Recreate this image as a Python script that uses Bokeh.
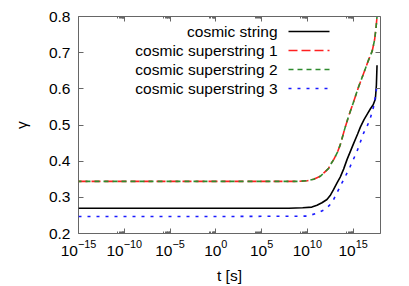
from bokeh.plotting import figure
from bokeh.models import (FixedTicker, LogAxis, LinearAxis, CustomJSTickFormatter, LogTickFormatter,
                          NumeralTickFormatter, Label, Arrow, Range1d)
from bokeh.embed import file_html
from bokeh.resources import INLINE

# ---- data (log10 of t in seconds, gamma) ----
string_logt = [-15, 0, 8, 9.5, 10.5, 11.06, 11.6, 12.15, 12.5, 12.88, 13.25, 13.6,
               13.97, 14.35, 15.0, 15.5, 15.8, 16.2, 16.6, 16.9, 17.2, 17.44, 17.55, 17.62]
string_gamma = [0.270, 0.270, 0.270, 0.271, 0.273, 0.278, 0.285, 0.294, 0.305, 0.322,
                0.340, 0.356, 0.378, 0.405, 0.445, 0.475, 0.494, 0.515, 0.532, 0.545,
                0.556, 0.572, 0.610, 0.665]

super12_logt = [-15, 0, 9, 10, 10.7, 11.42, 11.79, 12.33, 12.52, 12.9, 13.3, 13.6, 14.1,
                14.5, 15.06, 15.6, 16.16, 16.7, 17.1, 17.35, 17.5, 17.62]
super12_gamma = [0.344, 0.344, 0.344, 0.346, 0.350, 0.358, 0.367, 0.380, 0.390, 0.405,
                 0.425, 0.445, 0.490, 0.523, 0.564, 0.605, 0.643, 0.680, 0.705, 0.735,
                 0.765, 0.800]

super3_logt = [-15, 0, 9.97, 11.06, 11.97, 12.7, 13.25, 13.79, 14.2, 14.7, 15.43, 16.16,
               16.53, 16.89, 17.25, 17.44, 17.62]
super3_gamma = [0.247, 0.247, 0.248, 0.256, 0.267, 0.285, 0.313, 0.340, 0.360, 0.386,
                0.427, 0.478, 0.496, 0.519, 0.551, 0.578, 0.610]

x_major_exp = [-15, -10, -5, 0, 5, 10, 15]
y_ticks = [0.2, 0.3, 0.4, 0.5, 0.6, 0.7, 0.8]

legend_labels = ["cosmic string", "cosmic superstring 1", "cosmic superstring 2", "cosmic superstring 3"]

FONT = "Liberation Sans"
FS = "15.5px"
AX = "#666666"

def to_t(logs):
    return [10.0 ** v for v in logs]

p = figure(width=401, height=286, output_backend="svg", toolbar_location=None,
           x_axis_type="log", x_range=Range1d(1e-15, 1e18), y_range=Range1d(0.2, 0.8),
           min_border_left=78, min_border_right=21, min_border_top=16, min_border_bottom=52)
p.xgrid.visible = False
p.ygrid.visible = False
p.outline_line_color = AX
p.outline_line_width = 1
p.background_fill_color = "white"
p.border_fill_color = "white"

majors = [10.0 ** e for e in x_major_exp]
minors = [k * 10.0 ** (e - 1) for e in x_major_exp for k in range(2, 10)]
xt = FixedTicker(ticks=majors, minor_ticks=minors)
yt = FixedTicker(ticks=y_ticks)

xa = p.xaxis[0]
xa.ticker = xt
xa.formatter = LogTickFormatter()
xa.axis_label = "t [s]"
ya = p.yaxis[0]
ya.ticker = yt
ya.formatter = NumeralTickFormatter(format="0.0")
ya.axis_label = "\u03b3"

for ax in (xa, ya):
    ax.axis_line_color = None
    ax.major_tick_in = 5
    ax.major_tick_out = 0
    ax.minor_tick_in = 2
    ax.minor_tick_out = 0
    ax.major_tick_line_color = AX
    ax.minor_tick_line_color = AX
    ax.major_label_text_font = FONT
    ax.major_label_text_font_size = FS
    ax.major_label_text_color = "black"
    ax.axis_label_text_font = FONT
    ax.axis_label_text_font_size = FS
    ax.axis_label_text_font_style = "normal"
    ax.axis_label_text_color = "black"
ya.minor_tick_line_color = None
xa.major_label_standoff = 6
xa.axis_label_standoff = 8
ya.major_label_standoff = 8
ya.axis_label_standoff = 16

blank = CustomJSTickFormatter(code="return '';")
top = LogAxis(ticker=xt, formatter=blank)
right = LinearAxis(ticker=yt, formatter=blank)
for ax in (top, right):
    ax.axis_line_color = None
    ax.major_tick_in = 5
    ax.major_tick_out = 0
    ax.minor_tick_in = 2
    ax.minor_tick_out = 0
    ax.major_tick_line_color = AX
    ax.minor_tick_line_color = AX
    ax.major_label_standoff = 0
    ax.major_label_text_font_size = "1px"
right.minor_tick_line_color = None
p.add_layout(top, "above")
p.add_layout(right, "right")

LW = 1.6
p.line(to_t(string_logt), string_gamma, line_color="black", line_width=LW)
p.line(to_t(super12_logt), super12_gamma, line_color="#ff2020", line_width=LW, line_dash="9 4")
p.line(to_t(super12_logt), super12_gamma, line_color="#2e8b2e", line_width=LW, line_dash="5 4",
       line_dash_offset=2)
p.line(to_t(super3_logt), super3_gamma, line_color="#1a1aff", line_width=LW, line_dash="3 6")

# legend (gnuplot style: text right-aligned, sample to the right)
styles = [("black", "solid"), ("#ff2020", "9 4"), ("#2e8b2e", "5 4"), ("#1a1aff", "3 6")]
row_y = [202, 183, 164, 145]
for lab, (col, dash), yy in zip(legend_labels, styles, row_y):
    p.add_layout(Label(x=199, y=yy, x_units="screen", y_units="screen", text=lab,
                       text_align="right", text_baseline="middle", text_font=FONT,
                       text_font_size=FS, text_color="black"))
    p.add_layout(Arrow(end=None, start=None, x_start=210, y_start=yy, x_end=251, y_end=yy,
                       start_units="screen", end_units="screen", line_color=col,
                       line_width=LW, line_dash=dash))

open("out.html", "w").write(file_html(p, INLINE))
